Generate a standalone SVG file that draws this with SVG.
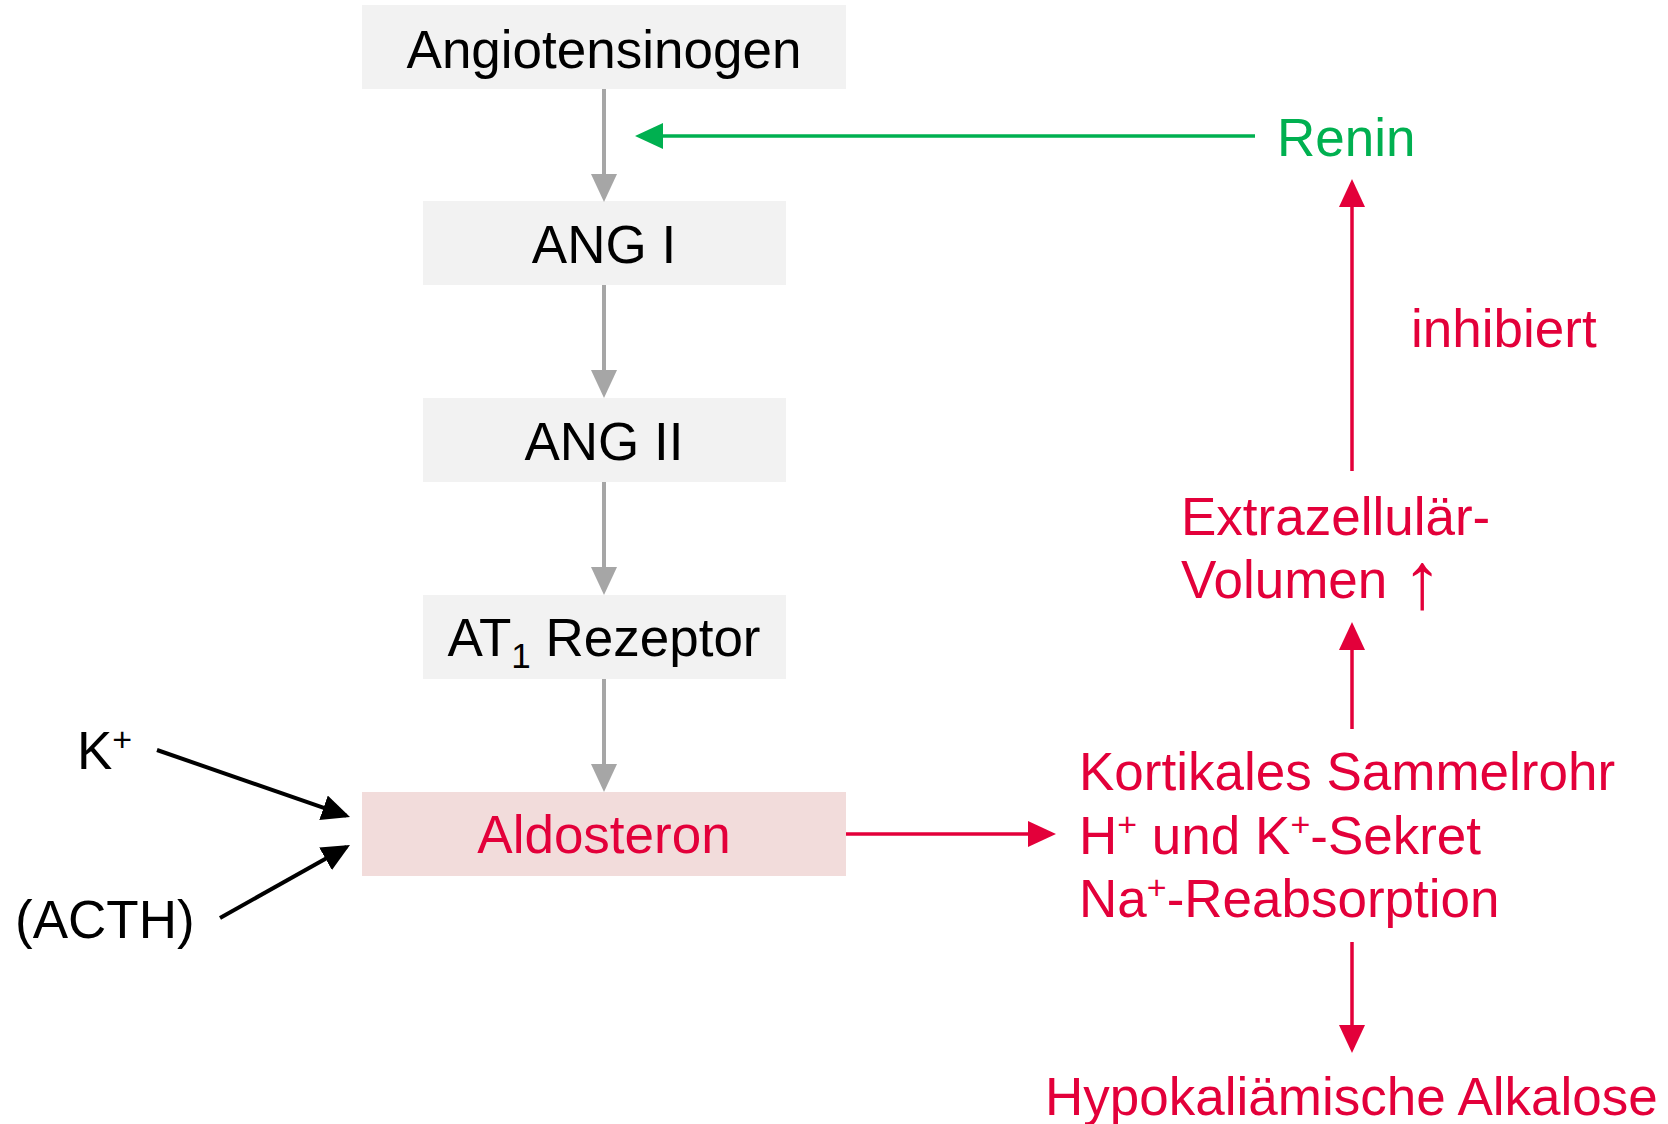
<svg xmlns="http://www.w3.org/2000/svg" width="1668" height="1124" viewBox="0 0 1668 1124">
<style>
text{font-family:"Liberation Sans",Arial,sans-serif;font-size:53px}
.blk{fill:#000}
.red{fill:#E3003A}
.grn{fill:#00B050}
.mid{text-anchor:middle}
.sup{font-size:34px}
.sub{font-size:35px}
.arr{font-size:80px}
.box{fill:#F2F2F2}
.abox{fill:#F2DCDB}
.cg{stroke:#A6A6A6;stroke-width:4;fill:none}
.cr{stroke:#E3003A;stroke-width:3.5;fill:none}
.cgr{stroke:#00B050;stroke-width:3.5;fill:none}
.ck{stroke:#000;stroke-width:4;fill:none}
</style>
<defs>
<marker id="ag" viewBox="0 0 28 26" refX="24" refY="13" markerWidth="28" markerHeight="26" orient="auto" markerUnits="userSpaceOnUse"><path d="M0,0 L28,13 L0,26 Z" fill="#A6A6A6"/></marker>
<marker id="ar" viewBox="0 0 28 26" refX="24" refY="13" markerWidth="28" markerHeight="26" orient="auto" markerUnits="userSpaceOnUse"><path d="M0,0 L28,13 L0,26 Z" fill="#E3003A"/></marker>
<marker id="agr" viewBox="0 0 28 26" refX="24" refY="13" markerWidth="28" markerHeight="26" orient="auto" markerUnits="userSpaceOnUse"><path d="M0,0 L28,13 L0,26 Z" fill="#00B050"/></marker>
<marker id="ak" viewBox="0 0 28 26" refX="24" refY="13" markerWidth="28" markerHeight="26" orient="auto" markerUnits="userSpaceOnUse"><path d="M0,0 L28,13 L0,26 Z" fill="#000"/></marker>
</defs>
<rect width="1668" height="1124" fill="#fff"/>
<g id="angiotensinogen"><rect class="box" x="362" y="5" width="484" height="84"/><text class="blk mid" x="604" y="68">Angiotensinogen</text></g>
<g id="ang1"><rect class="box" x="423" y="201" width="363" height="84"/><text class="blk mid" x="604" y="263">ANG I</text></g>
<g id="ang2"><rect class="box" x="423" y="398" width="363" height="84"/><text class="blk mid" x="604" y="460">ANG II</text></g>
<g id="at1"><rect class="box" x="423" y="595" width="363" height="84"/><text class="blk mid" x="604" y="656">AT<tspan class="sub" dy="12">1</tspan><tspan dy="-12"> Rezeptor</tspan></text></g>
<g id="aldosteron"><rect class="abox" x="362" y="792" width="484" height="84"/><text class="red mid" x="604" y="853">Aldosteron</text></g>
<g id="kplus"><text class="blk" x="77" y="769">K<tspan class="sup" dy="-18">+</tspan></text></g>
<g id="acth"><text class="blk" x="15" y="938">(ACTH)</text></g>
<g id="renin"><text class="grn" x="1277" y="156">Renin</text></g>
<g id="inhibiert"><text class="red" x="1411" y="347">inhibiert</text></g>
<g id="ezv"><text class="red" x="1181" y="535">Extrazellulär-</text><text class="red" x="1181" y="598">Volumen <tspan class="arr" dy="10">↑</tspan></text></g>
<g id="sammelrohr"><text class="red" x="1079" y="790">Kortikales Sammelrohr</text><text class="red" x="1079" y="854">H<tspan class="sup" dy="-18">+</tspan><tspan dy="18"> und K</tspan><tspan class="sup" dy="-18">+</tspan><tspan dy="18">-Sekret</tspan></text><text class="red" x="1079" y="917">Na<tspan class="sup" dy="-18">+</tspan><tspan dy="18">-Reabsorption</tspan></text></g>
<g id="alkalose"><text class="red" x="1045" y="1115">Hypokaliämische Alkalose</text></g>
<g id="connectors">
<line class="cg" x1="604" y1="89" x2="604" y2="198" marker-end="url(#ag)"/>
<line class="cg" x1="604" y1="285" x2="604" y2="394" marker-end="url(#ag)"/>
<line class="cg" x1="604" y1="482" x2="604" y2="591" marker-end="url(#ag)"/>
<line class="cg" x1="604" y1="679" x2="604" y2="788" marker-end="url(#ag)"/>
<line class="cgr" x1="1255" y1="136" x2="639" y2="136" marker-end="url(#agr)"/>
<line class="cr" x1="846" y1="834" x2="1052" y2="834" marker-end="url(#ar)"/>
<line class="cr" x1="1352" y1="729" x2="1352" y2="626" marker-end="url(#ar)"/>
<line class="cr" x1="1352" y1="471" x2="1352" y2="183" marker-end="url(#ar)"/>
<line class="cr" x1="1352" y1="942" x2="1352" y2="1049" marker-end="url(#ar)"/>
<line class="ck" x1="157" y1="750" x2="346.2" y2="815.7" marker-end="url(#ak)"/>
<line class="ck" x1="220" y1="918" x2="346.5" y2="847" marker-end="url(#ak)"/>
</g>
</svg>
